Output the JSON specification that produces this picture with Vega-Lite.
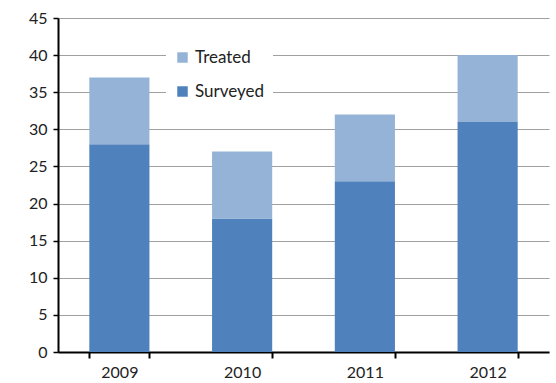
{
  "$schema": "https://vega.github.io/schema/vega-lite/v6.json",
  "width": 491,
  "height": 334,
  "autosize": {"type": "none"},
  "padding": {"left": 58, "top": 18, "right": 7, "bottom": 31},
  "background": "white",
  "config": {
    "view": {"stroke": null},
    "font": "Lato"
  },
  "data": {
    "values": [
      {"year": "2009", "series": "Surveyed", "value": 28},
      {"year": "2009", "series": "Treated", "value": 9},
      {"year": "2010", "series": "Surveyed", "value": 18},
      {"year": "2010", "series": "Treated", "value": 9},
      {"year": "2011", "series": "Surveyed", "value": 23},
      {"year": "2011", "series": "Treated", "value": 9},
      {"year": "2012", "series": "Surveyed", "value": 31},
      {"year": "2012", "series": "Treated", "value": 9}
    ]
  },
  "mark": {"type": "bar"},
  "encoding": {
    "x": {
      "field": "year",
      "type": "nominal",
      "scale": {"paddingInner": 0.51, "paddingOuter": 0.255},
      "axis": {
        "title": null,
        "labelAngle": 0,
        "labelFontSize": 16,
        "labelColor": "#222",
        "labelPadding": 6,
        "domainColor": "#000",
        "domainWidth": 2,
        "tickColor": "#000",
        "tickWidth": 2,
        "tickSize": 6,
        "tickBand": "extent",
        "grid": false
      }
    },
    "y": {
      "field": "value",
      "type": "quantitative",
      "stack": "zero",
      "scale": {"domain": [0, 45], "nice": false},
      "axis": {
        "title": null,
        "values": [0, 5, 10, 15, 20, 25, 30, 35, 40, 45],
        "labelFontSize": 16,
        "labelColor": "#222",
        "labelPadding": 6,
        "domainColor": "#000",
        "domainWidth": 2,
        "tickColor": "#000",
        "tickWidth": 1.5,
        "tickSize": 5,
        "grid": true,
        "gridColor": "#a0a0a0",
        "gridWidth": 1
      }
    },
    "color": {
      "field": "series",
      "type": "nominal",
      "scale": {"domain": ["Treated", "Surveyed"], "range": ["#95B3D7", "#4F81BD"]},
      "legend": {
        "title": null,
        "orient": "none",
        "legendX": 108,
        "legendY": 23,
        "fillColor": "white",
        "padding": 8,
        "symbolType": "square",
        "symbolSize": 110,
        "symbolStrokeWidth": 0,
        "labelFontSize": 17,
        "labelColor": "#222",
        "labelOffset": 4,
        "rowPadding": 16
      }
    },
    "order": {"field": "series", "sort": "ascending"}
  }
}
